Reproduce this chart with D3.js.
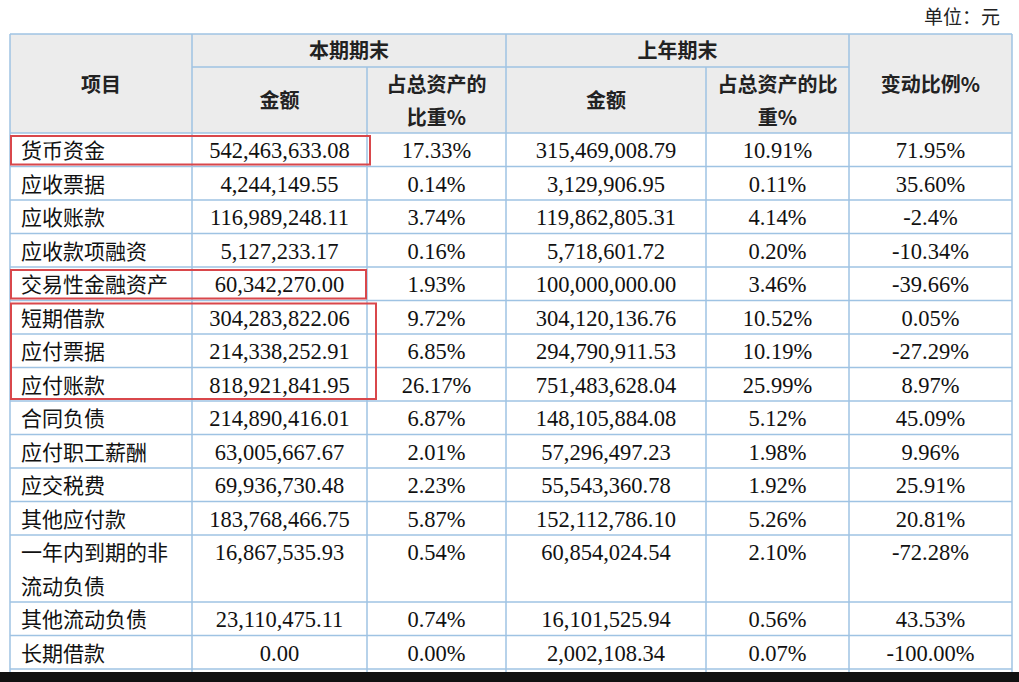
<!DOCTYPE html>
<html><head><meta charset="utf-8">
<script src="https://cdn.jsdelivr.net/npm/d3@7"></script>
<style>body{margin:0;background:#fff}svg{display:block}</style>
</head><body><svg id="chart" width="1019" height="682"></svg>
<script>
const items = ["货币资金","应收票据","应收账款","应收款项融资","交易性金融资产","短期借款","应付票据","应付账款","合同负债","应付职工薪酬","应交税费","其他应付款","一年内到期的非\n流动负债","其他流动负债","长期借款"];
const curAmount = ["542,463,633.08","4,244,149.55","116,989,248.11","5,127,233.17","60,342,270.00","304,283,822.06","214,338,252.91","818,921,841.95","214,890,416.01","63,005,667.67","69,936,730.48","183,768,466.75","16,867,535.93","23,110,475.11","0.00"];
const curShare = ["17.33%","0.14%","3.74%","0.16%","1.93%","9.72%","6.85%","26.17%","6.87%","2.01%","2.23%","5.87%","0.54%","0.74%","0.00%"];
const prevAmount = ["315,469,008.79","3,129,906.95","119,862,805.31","5,718,601.72","100,000,000.00","304,120,136.76","294,790,911.53","751,483,628.04","148,105,884.08","57,296,497.23","55,543,360.78","152,112,786.10","60,854,024.54","16,101,525.94","2,002,108.34"];
const prevShare = ["10.91%","0.11%","4.14%","0.20%","3.46%","10.52%","10.19%","25.99%","5.12%","1.98%","1.92%","5.26%","2.10%","0.56%","0.07%"];
const change = ["71.95%","35.60%","-2.4%","-10.34%","-39.66%","0.05%","-27.29%","8.97%","45.09%","9.96%","25.91%","20.81%","-72.28%","43.53%","-100.00%"];
const rowSpan = [1,1,1,1,1,1,1,1,1,1,1,1,2,1,1];
const highlightGroups = [[0,0,1,0],[4,4,1,-4],[5,7,1,6]]; // [firstRow,lastRow,lastCol,extra width]

const svg = d3.select("#chart");
const colEdges = [10,192,367,506,706,849,1012];
const x = i => colEdges[i];
const cx = i => (colEdges[i] + colEdges[i+1]) / 2;
const units = d3.cumsum([0, ...rowSpan]);
const y = d3.scaleLinear().domain([0, d3.sum(rowSpan)]).range([133, 669]);
const border = "#9fc3e3";
const cn = "'Noto Sans CJK SC', sans-serif";
const num = "'Liberation Serif', 'Times New Roman', serif";

svg.append("text").attr("x", 1000).attr("y", 24).attr("text-anchor", "end")
  .attr("font-family", cn).attr("font-size", 19).attr("fill", "#222").text("单位：元");

// header
svg.append("rect").attr("x", 10).attr("y", 34).attr("width", 1002).attr("height", 99).attr("fill", "#ececec");
const hdr = (t, xx, yy) => svg.append("text").attr("x", xx).attr("y", yy).attr("text-anchor", "middle")
  .attr("font-family", cn).attr("font-weight", "bold").attr("font-size", 20).attr("fill", "#222").text(t);
hdr("项目", cx(0), 92);
hdr("本期期末", (x(1)+x(3))/2, 58);
hdr("上年期末", (x(3)+x(5))/2, 58);
hdr("变动比例%", cx(5), 92);
hdr("金额", cx(1), 108);
hdr("金额", cx(3), 108);
hdr("占总资产的", cx(2), 92); hdr("比重%", cx(2), 125);
hdr("占总资产的比", cx(4), 92); hdr("重%", cx(4), 125);

// body rows
const rows = items.map((d, i) => ({item: d, vals: [curAmount[i], curShare[i], prevAmount[i], prevShare[i], change[i]], y0: y(units[i]), y1: y(units[i+1])}));
const g = svg.append("g");
rows.forEach(r => {
  r.item.split("\n").forEach((t, k) => g.append("text").attr("x", 21).attr("y", r.y0 + 25 + k*33.5)
    .attr("font-family", cn).attr("font-size", 21).attr("fill", "#111").text(t));
  r.vals.forEach((v, j) => g.append("text").attr("x", cx(j+1)).attr("y", r.y0 + 25).attr("text-anchor", "middle")
    .attr("font-family", num).attr("font-size", 22.5).attr("fill", "#111").text(v));
});

// grid
const lines = svg.append("g").attr("stroke", border).attr("stroke-width", 1.5);
lines.append("line").attr("x1", 10).attr("x2", 1012).attr("y1", 34).attr("y2", 34);
lines.append("line").attr("x1", x(1)).attr("x2", x(5)).attr("y1", 67).attr("y2", 67);
rows.forEach(r => lines.append("line").attr("x1", 10).attr("x2", 1012).attr("y1", r.y0).attr("y2", r.y0));
lines.append("line").attr("x1", 10).attr("x2", 1012).attr("y1", y.range()[1]).attr("y2", y.range()[1]);
colEdges.forEach((e, i) => lines.append("line").attr("x1", e).attr("x2", e)
  .attr("y1", (i === 2 || i === 4) ? 67 : 34).attr("y2", 672));

// red highlight boxes
highlightGroups.forEach(([a, b, c, ex]) => svg.append("rect")
  .attr("x", 11).attr("y", y(units[a]) + 3).attr("width", x(c+1) - 11 + 3 + ex).attr("height", y(units[b+1]) - y(units[a]) - 5)
  .attr("fill", "none").attr("stroke", "#d9474b").attr("stroke-width", 2));

// bottom dark band
svg.append("rect").attr("x", 0).attr("y", 672).attr("width", 1019).attr("height", 10).attr("fill", "#111");
</script></body></html>
